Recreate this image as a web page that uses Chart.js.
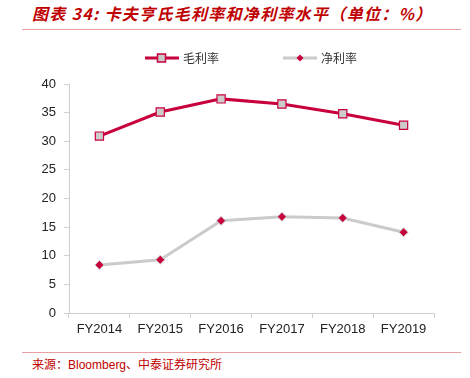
<!DOCTYPE html>
<html>
<head>
<meta charset="utf-8">
<script src="https://cdn.jsdelivr.net/npm/chart.js@4/dist/chart.umd.min.js"></script>
<style>
  html, body { margin: 0; padding: 0; background: #fff; }
  body { width: 470px; height: 378px; position: relative; overflow: hidden; }
  #titulo {
    position: absolute; left: 32px; top: 1px;
    font-family: "Noto Sans CJK SC", sans-serif; font-style: italic; font-weight: bold;
    font-size: 16px; color: #c00000; letter-spacing: 1.3px; white-space: nowrap;
  }
  #linhaTopo { position: absolute; left: 22px; top: 29px; width: 439px; height: 1px; background: #e8a0a0; }
  #linhaBase { position: absolute; left: 22px; top: 352px; width: 439px; height: 1px; background: #e8a0a0; }
  #fonte {
    position: absolute; left: 32px; top: 355px;
    font-family: "Noto Sans CJK SC", sans-serif; font-size: 12px; color: #c00000; white-space: nowrap;
  }
  #fonte span { font-family: "Liberation Sans", Arial, sans-serif; }
  #wrap { position: absolute; left: 0; top: 36px; width: 470px; height: 302px; }
  .leg { position: absolute; top: 49px; display: flex; align-items: center;
    font-family: "Noto Sans CJK SC", sans-serif; font-size: 12px; color: #333; }
  .leg canvas { margin-right: 4px; }
</style>
</head>
<body>
<div id="titulo">图表 34:  卡夫亨氏毛利率和净利率水平（单位：%）</div>
<div id="linhaTopo"></div>
<div id="wrap"><canvas id="grafico"></canvas></div>
<div class="leg" id="leg0" style="left:145px"></div>
<div class="leg" id="leg1" style="left:283px"></div>
<div id="linhaBase"></div>
<div id="fonte">来源：<span>Bloomberg</span>、中泰证券研究所</div>
<script>
// Dados
const anos = ['FY2014', 'FY2015', 'FY2016', 'FY2017', 'FY2018', 'FY2019'];
const margemBruta = [30.9, 35.1, 37.4, 36.5, 34.8, 32.8];
const margemLiquida = [8.4, 9.3, 16.1, 16.8, 16.6, 14.1];
const ticksY = [0, 5, 10, 15, 20, 25, 30, 35, 40];
const nomes = ['毛利率', '净利率'];

const VERMELHO = '#c8003c';
const CINZA = '#cbcbcb';

// Ícone de legenda: linha com marcador no meio
function iconeLegenda(corLinha, desenharMarcador) {
  const c = document.createElement('canvas');
  c.width = 34; c.height = 12;
  const g = c.getContext('2d');
  g.strokeStyle = corLinha;
  g.lineWidth = 3;
  g.beginPath(); g.moveTo(0, 6); g.lineTo(34, 6); g.stroke();
  desenharMarcador(g);
  return c;
}

const icones = [
  iconeLegenda(VERMELHO, g => {
    g.fillStyle = '#c8c8c8';
    g.strokeStyle = VERMELHO;
    g.lineWidth = 1.5;
    g.fillRect(12.5, 2, 8, 8);
    g.strokeRect(12.5, 2, 8, 8);
  }),
  iconeLegenda(CINZA, g => {
    g.fillStyle = VERMELHO;
    g.beginPath();
    g.moveTo(17, 2.5); g.lineTo(20.5, 6); g.lineTo(17, 9.5); g.lineTo(13.5, 6);
    g.closePath(); g.fill();
  })
];

nomes.forEach((nome, i) => {
  const el = document.getElementById('leg' + i);
  el.appendChild(icones[i]);
  el.appendChild(document.createTextNode(nome));
});

new Chart(document.getElementById('grafico'), {
  type: 'line',
  data: {
    labels: anos,
    datasets: [
      {
        label: nomes[0],
        data: margemBruta,
        borderColor: VERMELHO,
        borderWidth: 3,
        pointStyle: 'rect',
        pointRadius: 5.8,
        pointBackgroundColor: '#cccccc',
        pointBorderColor: VERMELHO,
        pointBorderWidth: 1.2,
        tension: 0
      },
      {
        label: nomes[1],
        data: margemLiquida,
        borderColor: CINZA,
        borderWidth: 3,
        pointStyle: 'rectRot',
        pointRadius: 4.5,
        pointBackgroundColor: VERMELHO,
        pointBorderColor: CINZA,
        pointBorderWidth: 1,
        tension: 0
      }
    ]
  },
  options: {
    responsive: true,
    maintainAspectRatio: false,
    animation: false,
    layout: { padding: { left: 0, right: 36, top: 48, bottom: 0 } },
    plugins: {
      tooltip: { enabled: false },
      legend: { display: false }
    },
    scales: {
      x: {
        offset: true,
        grid: { display: true, drawOnChartArea: false, drawTicks: true, tickLength: 5, color: '#d0d0d0', offset: true },
        border: { display: true, color: '#d0d0d0' },
        ticks: { color: '#222', font: { size: 13, family: '"Liberation Sans", Arial, sans-serif' }, padding: 4 },
        afterFit: s => { s.height = 25; }
      },
      y: {
        min: 0,
        max: 40,
        afterBuildTicks: s => { s.ticks = ticksY.map(v => ({ value: v })); },
        grid: { display: true, drawOnChartArea: false, drawTicks: true, tickLength: 5, color: '#d0d0d0' },
        border: { display: true, color: '#d0d0d0' },
        ticks: { color: '#222', font: { size: 13, family: '"Liberation Sans", Arial, sans-serif' }, padding: 8 },
        afterFit: s => { s.width = 69; }
      }
    }
  }
});
</script>
</body>
</html>
